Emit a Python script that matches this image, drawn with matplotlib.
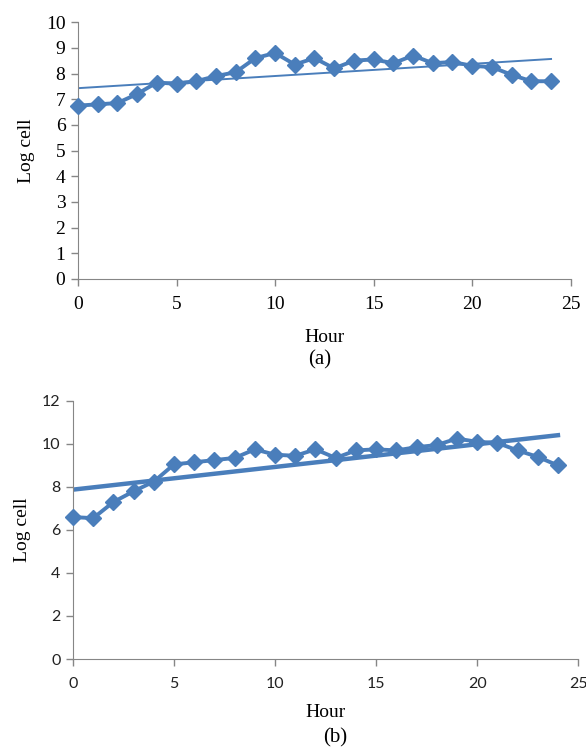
import numpy as np
import matplotlib
matplotlib.use('Agg')
import matplotlib.pyplot as plt

# data
hours = list(range(0, 25))
log_cell_a = [6.75, 6.8, 6.85, 7.2, 7.65, 7.6, 7.7, 7.9, 8.05, 8.6, 8.8, 8.35, 8.6,
              8.2, 8.5, 8.55, 8.4, 8.7, 8.4, 8.45, 8.3, 8.25, 7.95, 7.7, 7.7]
log_cell_b = [6.6, 6.55, 7.3, 7.8, 8.25, 9.05, 9.15, 9.25, 9.35, 9.75, 9.5, 9.45, 9.75,
              9.35, 9.7, 9.75, 9.7, 9.85, 9.95, 10.25, 10.1, 10.05, 9.7, 9.4, 9.0]
xticks = [0, 5, 10, 15, 20, 25]
yticks_a = list(range(0, 11))
yticks_b = [0, 2, 4, 6, 8, 10, 12]

blue = '#4A7EBB'
grey = '#868686'
serif = ['Liberation Serif', 'DejaVu Serif']
sans = ['Lato', 'DejaVu Sans']

fig = plt.figure(figsize=(5.86, 7.51), dpi=100)


def style_axes(ax, pad):
    ax.spines['right'].set_color('none')
    ax.spines['top'].set_color('none')
    ax.spines['left'].set_color(grey)
    ax.spines['bottom'].set_color(grey)
    ax.tick_params(direction='out', length=5, color=grey, width=1, pad=4)
    ax.tick_params(axis='x', pad=pad)


# panel (a)
ax1 = fig.add_axes([0.133, 0.6285, 0.841, 0.342])
ax1.plot(hours, log_cell_a, color=blue, lw=2.8, marker='D', ms=8.5, clip_on=False, zorder=3)
k, b = np.polyfit(hours, log_cell_a, 1)
t = np.array([hours[0], hours[-1]])
ax1.plot(t, k * t + b, color=blue, lw=1.4, zorder=2)
ax1.set_xlim(0, 25)
ax1.set_ylim(0, 10)
ax1.set_xticks(xticks)
ax1.set_yticks(yticks_a)
style_axes(ax1, 7.6)
for lab in ax1.get_xticklabels() + ax1.get_yticklabels():
    lab.set_family(serif)
    lab.set_fontsize(14)
ax1.set_xlabel('Hour', family=serif, fontsize=14, labelpad=11)
ax1.set_ylabel('Log cell', family=serif, fontsize=14, labelpad=8)
fig.text(0.546, 1 - 360 / 751, '(a)', family=serif, fontsize=15, ha='center', va='center')

# panel (b)
ax2 = fig.add_axes([0.1246, 0.1225, 0.862, 0.3436])
ax2.plot(hours, log_cell_b, color=blue, lw=2.8, marker='D', ms=8.5, clip_on=False, zorder=3)
k2, b2 = np.polyfit(hours, log_cell_b, 1)
ax2.plot(t, k2 * t + b2, color=blue, lw=3.2, zorder=2)
ax2.set_xlim(0, 25)
ax2.set_ylim(0, 12)
ax2.set_xticks(xticks)
ax2.set_yticks(yticks_b)
style_axes(ax2, 8.3)
for lab in ax2.get_xticklabels() + ax2.get_yticklabels():
    lab.set_family(sans)
    lab.set_fontsize(11.5)
    lab.set_color('#222222')
ax2.set_xlabel('Hour', family=serif, fontsize=14, labelpad=9)
ax2.set_ylabel('Log cell', family=serif, fontsize=14, labelpad=8)
fig.text(0.572, 1 - 738 / 751, '(b)', family=serif, fontsize=15, ha='center', va='center')

plt.savefig('out.png', dpi=100)
